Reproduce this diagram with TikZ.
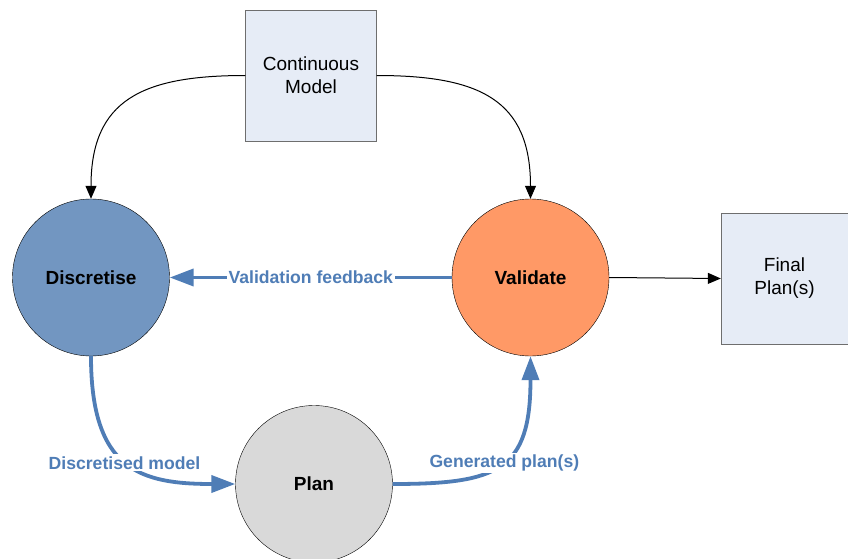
\documentclass[tikz,border=0pt]{standalone}
\usepackage{fontspec}
\setmainfont{Liberation Sans}
\usetikzlibrary{arrows.meta}
\definecolor{boxfill}{RGB}{230,236,246}
\definecolor{boxline}{RGB}{110,110,110}
\definecolor{discfill}{RGB}{114,150,193}
\definecolor{validfill}{RGB}{255,153,102}
\definecolor{planfill}{RGB}{217,217,217}
\definecolor{flow}{RGB}{79,125,182}
\tikzset{
  phase/.style = {
    circle, draw=black, minimum size=157pt, inner sep=0pt,
    font=\fontsize{19}{22}\selectfont\bfseries
  },
  store/.style = {
    rectangle, draw=boxline, fill=boxfill, align=center,
    minimum width=131pt, minimum height=131pt,
    font=\fontsize{19}{23}\selectfont
  }
}
\tikzset{
  feed/.style = {-{Triangle[length=24pt,width=17pt]}, line width=3.8pt, flow},
  link/.style = {-{Triangle[length=13pt,width=11pt]}, line width=1pt, black},
  flowlabel/.style = {fill=white, text=flow, inner sep=2pt,
    font=\fontsize{17.6}{20}\selectfont\bfseries}
}

\begin{document}
\begin{tikzpicture}[x=1pt,y=-1pt]
  \useasboundingbox (0,0) rectangle (848,559);
  % boxes
  \node[store] (model) at (311,75.5) {Continuous\\Model};
  \node[store,minimum width=127pt] (final) at (784.5,278.5) {Final\\Plan(s)};
  % phases
  \node[phase,fill=discfill] (disc) at (91,277.5) {Discretise};
  \node[phase,fill=validfill] (valid) at (530.5,277.5) {Validate};
  \node[phase,fill=planfill] (plan) at (314,484) {Plan};
  % model links
  \draw[link] (model.west) .. controls +(-103,0) and +(0,-99) .. (disc.north);
  \draw[link] (model.east) .. controls +(103,0) and +(0,-99) .. (valid.north);
  \draw[link] (valid.east) -- (final.west);
  % loop
  \draw[feed] (valid.west) -- node[flowlabel] {Validation feedback} (disc.east);
  \draw[feed] (disc.south) .. controls +(0,114) and +(-95,0) .. node[flowlabel,pos=0.5,xshift=-3pt] {Discretised model} (plan.west);
  \draw[feed] (plan.east) .. controls +(106,0) and +(0,114) .. node[flowlabel,pos=0.5,xshift=3pt] {Generated plan(s)} (valid.south);
\end{tikzpicture}
\end{document}
